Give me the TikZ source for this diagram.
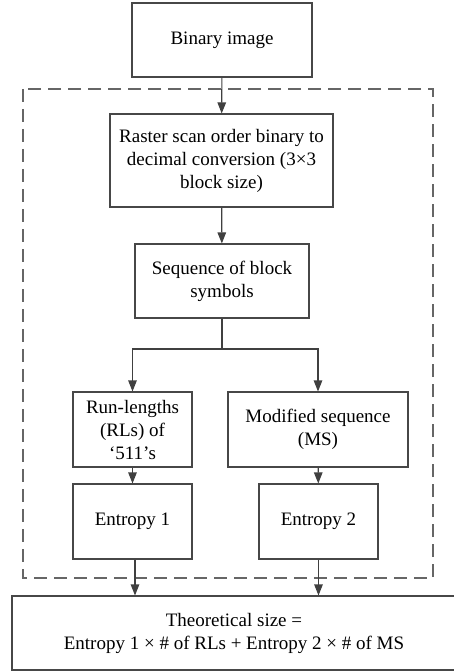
\documentclass[tikz,border=0pt]{standalone}
\usepackage{fontspec}
\setmainfont{Liberation Serif}
\usetikzlibrary{arrows.meta,positioning,calc}
\tikzset{
  >={Triangle[length=11pt,width=8.5pt]},
  blk/.style={draw=black!72,line width=1.1pt,align=center,inner sep=2pt,
              font=\fontsize{19}{23}\selectfont,text=black},
  flow/.style={->,draw=black!75,line width=1.1pt},
  trunk/.style={-,draw=black!75,line width=1.1pt},
  group/.style={draw=black!60,line width=1.6pt,dash pattern=on 13pt off 7pt},
}
\begin{document}
\begin{tikzpicture}[x=1pt,y=-1pt]
  \useasboundingbox (0,0) rectangle (454,671);
  % ---- dashed group ----
  \draw[group] (23,89) rectangle (433,578);

  % ---- blocks ----
  \node[blk,minimum width=180pt,minimum height=74pt] (bin)    at (222,40)    {Binary image};
  \node[blk,minimum width=223pt,minimum height=93pt] (raster) at (221.5,160.5)
        {Raster scan order binary to\\decimal conversion (3×3\\block size)};
  \node[blk,minimum width=174pt,minimum height=74pt] (seq)    at (222,281)   {Sequence of block\\symbols};
  \node[blk,minimum width=119pt,minimum height=75pt] (rl)     at (132.5,429.5) {Run-lengths\\(RLs) of\\‘511’s};
  \node[blk,minimum width=180pt,minimum height=75pt] (ms)     at (318,429.5) {Modified sequence\\(MS)};
  \node[blk,minimum width=119pt,minimum height=75pt] (e1)     at (132.5,521.5) {Entropy 1};
  \node[blk,minimum width=119pt,minimum height=75pt] (e2)     at (318.5,521.5) {Entropy 2};
  \node[blk,minimum width=444pt,minimum height=74pt] (size)   at (234,633)
        {Theoretical size =\\Entropy 1 × \# of RLs + Entropy 2 × \# of MS};

  % ---- connectors ----
  \coordinate (br) at (222,349);
  \draw[flow] (bin) -- (raster);
  \draw[flow] (raster) -- (seq);
  \draw[trunk] (seq) -- (br);
  \draw[flow] (br) -| (rl);
  \draw[flow] (br) -| (ms);
  \draw[flow] (rl) -- (e1);
  \draw[flow] (ms) -- (e2);
  \draw[flow] ([xshift=2.5pt]e1.south) -- ([xshift=2.5pt]e1.south |- size.north);
  \draw[flow] (e2.south) -- (e2.south |- size.north);
\end{tikzpicture}
\end{document}
